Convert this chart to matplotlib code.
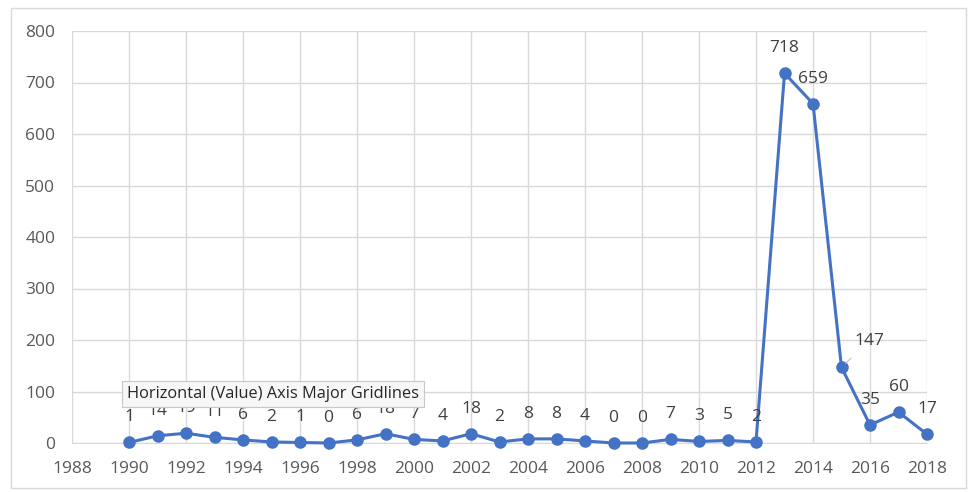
import numpy as np
import matplotlib.pyplot as plt
from matplotlib.patches import Rectangle

# Data
years = list(range(1990, 2019))
counts = [1, 14, 19, 11, 6, 2, 1, 0, 6, 18, 7, 4, 18, 2, 8, 8, 4, 0, 0, 7, 3, 5, 2,
          718, 659, 147, 35, 60, 17]
x_ticks = list(range(1988, 2019, 2))
y_ticks = list(range(0, 801, 100))

line_color = '#4472C4'
text_color = '#595959'

plt.rcParams['font.family'] = ['Open Sans', 'DejaVu Sans']

fig = plt.figure(figsize=(9.7, 4.92), dpi=100)
ax = fig.add_axes([72/970, 1 - 443/492, (927 - 72)/970, (443 - 31)/492])

# light border around the chart area
fig.patches.append(Rectangle((11/970, 4/492), (966 - 11)/970, (484 - 4)/492,
                             transform=fig.transFigure, fill=False,
                             edgecolor='#d9d9d9', linewidth=1.0))

ax.plot(years, counts, color=line_color, linewidth=2.2, marker='o',
        markersize=8, zorder=3, clip_on=False)

# data labels
for yr, val in zip(years, counts):
    if yr == 2015:
        ax.annotate(str(val), xy=(yr, val), xytext=(20, 19),
                    textcoords='offset points', ha='center', va='center',
                    fontsize=12.5, color='#404040',
                    arrowprops=dict(arrowstyle='-', color='#bfbfbf', lw=0.8,
                                    shrinkA=7, shrinkB=4))
    else:
        ax.annotate(str(val), xy=(yr, val), xytext=(0, 18),
                    textcoords='offset points', ha='center', va='center',
                    fontsize=12.5, color='#404040')

ax.set_xlim(1988, 2018)
ax.set_ylim(0, 800)
ax.set_xticks(x_ticks)
ax.set_yticks(y_ticks)
ax.tick_params(axis='both', length=0, labelsize=12.5, labelcolor=text_color)
ax.tick_params(axis='x', pad=13)
ax.tick_params(axis='y', pad=12)
ax.grid(True, color='#d9d9d9', linewidth=1.0)
ax.set_axisbelow(True)
for side in ['top', 'right', 'left']:
    ax.spines[side].set_visible(False)
ax.spines['bottom'].set_color('#d9d9d9')

# the hover tooltip visible in the screenshot
fig.text(127/970, 1 - 394/492, 'Horizontal (Value) Axis Major Gridlines',
         fontsize=11.8, color='#262626', ha='left', va='center', zorder=10,
         bbox=dict(boxstyle='square,pad=0.3', facecolor='#f7f7f7',
                   edgecolor='#c8c8c8', linewidth=0.8))

fig.savefig('out.png', dpi=100)
